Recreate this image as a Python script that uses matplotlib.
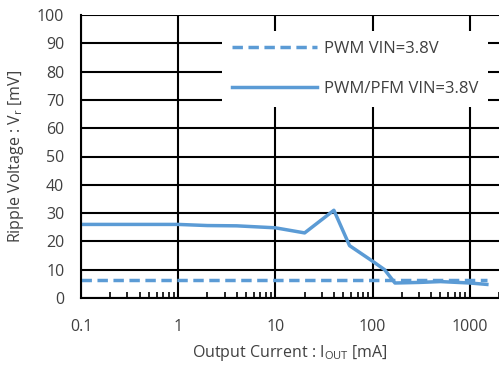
import numpy as np
import matplotlib.pyplot as plt

plt.rcParams['font.family'] = ['Open Sans', 'DejaVu Sans']
plt.rcParams['mathtext.default'] = 'regular'

# PWM, fixed frequency
pwm_x = [0.1, 1500]
pwm_y = [6.3, 6.3]

# PWM/PFM auto
pfm_x = [0.1, 1, 2, 4, 10, 20, 40, 58, 100, 133, 170, 300, 500, 1000, 1500]
pfm_y = [26, 26, 25.6, 25.5, 24.8, 23, 31, 18.5, 13, 10, 5.3, 5.5, 5.8, 5.3, 4.8]

blue = '#5B9BD5'
txt = '#404040'

fig = plt.figure(figsize=(4.99, 3.65), dpi=100)
ax = fig.add_axes([81/499, 1-298/365, 418/499, 283/365])

ax.plot(pwm_x, pwm_y, color=blue, lw=2.5, ls=(0, (3, 1.6)), label='PWM VIN=3.8V')
ax.plot(pfm_x, pfm_y, color=blue, lw=2.5, label='PWM/PFM VIN=3.8V')

ax.set_xscale('log')
ax.set_xlim(0.1, 2000)
ax.set_ylim(0, 100)
ax.set_yticks(np.arange(0, 101, 10))
ax.set_xticks([0.1, 1, 10, 100, 1000])
ax.set_xticklabels(['0.1', '1', '10', '100', '1000'])
ax.grid(True, which='major', color='black', lw=1.5)
ax.set_axisbelow(True)

for s in ['top', 'right']:
    ax.spines[s].set_visible(False)
for s in ['left', 'bottom']:
    ax.spines[s].set_linewidth(1.5)
    ax.spines[s].set_color('black')

ax.tick_params(axis='both', which='major', length=0, labelsize=11.5, labelcolor=txt)
ax.tick_params(axis='x', which='major', pad=15)
ax.tick_params(axis='y', which='major', pad=12)
ax.tick_params(axis='x', which='minor', direction='in', length=4, width=1.2, color='black')
ax.xaxis.set_minor_formatter(plt.NullFormatter())

ax.set_xlabel('Output Current : I$_{OUT}$ [mA]', fontsize=11.5, color=txt, labelpad=6)
ax.set_ylabel('Ripple Voltage : V$_r$ [mV]', fontsize=11.5, color=txt, labelpad=8)

leg = ax.legend(loc='upper left', bbox_to_anchor=(0.337, 0.945), fontsize=12,
                handlelength=5.1, labelspacing=1.45, borderpad=0.6, handletextpad=0.42,
                frameon=True, fancybox=False, framealpha=1, facecolor='white',
                edgecolor='none', borderaxespad=0)
for t in leg.get_texts():
    t.set_color(txt)

fig.savefig('out.png', dpi=100)
